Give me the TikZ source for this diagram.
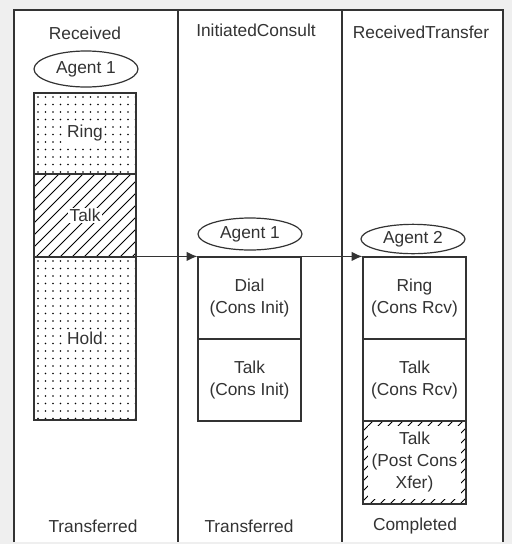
\documentclass[tikz,border=0pt]{standalone}
\usepackage{fontspec}
\setmainfont{Liberation Sans}
\usetikzlibrary{shapes.geometric,fit,arrows.meta}
\definecolor{ln}{HTML}{333333}
\definecolor{bg}{HTML}{EFEFEF}
\begin{document}
\begin{tikzpicture}[x=0.75pt,y=-0.75pt,
  every node/.style={font=\fontsize{13}{16.5}\selectfont, text=ln},
  boxst/.style={draw=ln, line width=0.9pt, inner sep=0pt},
  agent/.style={ellipse, draw=ln, line width=0.9pt, inner sep=0pt, minimum width=78pt, minimum height=#1},
  lbl/.style={align=center, inner sep=1pt},
  lblw/.style={align=center, inner sep=1pt, fill=white},
  arr/.style={draw=ln, line width=1pt, -{Latex[length=8pt,width=7pt]}}
]
\useasboundingbox (0,0) rectangle (512,544);
% background and frame
\fill[bg] (0,0) rectangle (512,544);
\fill[white] (14,10) rectangle (503,542);
\draw[ln, line width=1.1pt] (14,542) -- (14,10) -- (503,10) -- (503,542);
\draw[ln, line width=1.1pt] (178,10) -- (178,542);
\draw[ln, line width=1.1pt] (342,10) -- (342,542);

% titles
\node[lbl] (t1) at (85,33) {Received};
\node[lbl] (t2) at (256,30) {InitiatedConsult};
\node[lbl] (t3) at (421,32) {ReceivedTransfer};
\node[lbl] (b1) at (93,526) {Transferred};
\node[lbl] (b2) at (249,526) {Transferred};
\node[lbl] (b3) at (415,526) {Completed};

% agents
\node[agent=27pt] (a1) at (86,69) {Agent 1};
\node[agent=24pt] (a2) at (250,234) {Agent 1};
\node[agent=22pt] (a3) at (413,239) {Agent 2};

% column 1 patterns
\begin{scope}
  \clip (34,93) rectangle (136,174);
  \foreach \x in {38,45.5,...,136} \foreach \y in {97,104.5,...,174} \fill[black] (\x,\y) circle (0.8);
\end{scope}
\begin{scope}
  \clip (34,257) rectangle (136,420);
  \foreach \x in {38,45.5,...,136} \foreach \y in {261,268.5,...,420} \fill[black] (\x,\y) circle (0.8);
\end{scope}
\begin{scope}
  \clip (34,174) rectangle (136,257);
  \foreach \x in {-60,-48,...,140} \draw[black, line width=0.7pt] (\x,257) -- ++(83,-83);
\end{scope}
\begin{scope}
  \clip (363,421) rectangle (466,504);
  \foreach \x in {280,290,...,470} \draw[black, line width=0.7pt] (\x,504) -- ++(83,-83);
  \fill[white] (368,426) rectangle (461,499);
\end{scope}

% column 1 boxes
\node[boxst, fit={(34,93) (136,174)}] (ring) {};
\node[boxst, fit={(34,174) (136,257)}] (talk) {};
\node[boxst, fit={(34,257) (136,420)}] (hold) {};
\node[lblw] (ringt) at (ring.center) {Ring};
\node[lblw] (talkt) at (talk.center) {Talk};
\node[lblw] (holdt) at (hold.center) {Hold};

% column 2 boxes
\node[boxst, fit={(198,257) (301,339)}] (dial) {};
\node[boxst, fit={(198,339) (301,421)}] (talki) {};
\node[lbl] (dialt) at (dial.center) {Dial\\(Cons Init)};
\node[lbl] (talkit) at (talki.center) {Talk\\(Cons Init)};

% column 3 boxes
\node[boxst, fit={(363,257) (466,339)}] (ringr) {};
\node[boxst, fit={(363,339) (466,421)}] (talkr) {};
\node[boxst, fit={(363,421) (466,504)}] (talkp) {};
\node[lbl] (ringrt) at (ringr.center) {Ring\\(Cons Rcv)};
\node[lbl] (talkrt) at (talkr.center) {Talk\\(Cons Rcv)};
\node[lbl] (talkpt) at (talkp.center) {Talk\\(Post Cons\\Xfer)};

% arrows
\draw[arr] (hold.north east) -- (dial.north west);
\draw[arr] (dial.north east) -- (ringr.north west);
\end{tikzpicture}
\end{document}
